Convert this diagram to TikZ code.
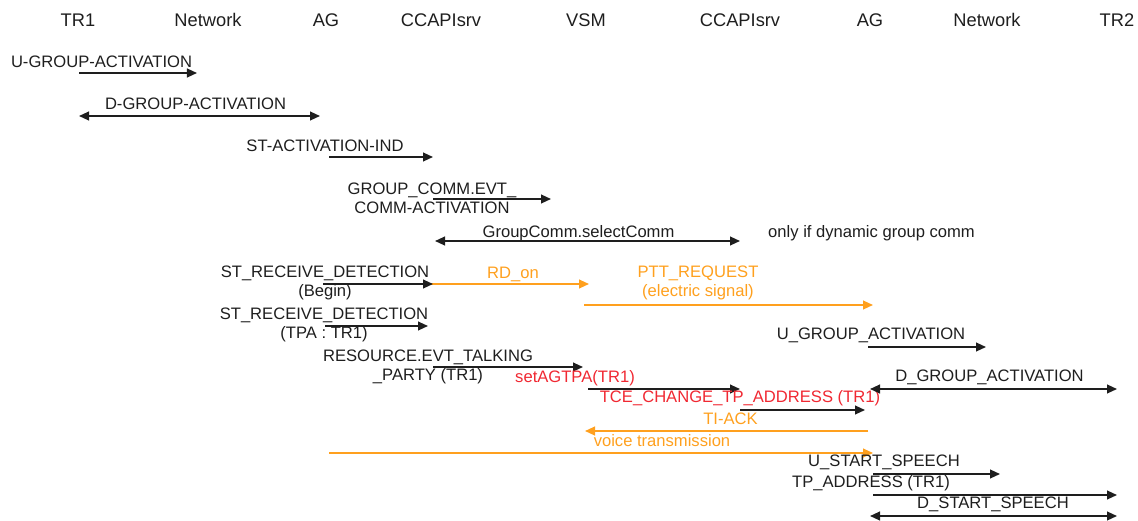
\documentclass[tikz,border=0pt]{standalone}
\usepackage{fontspec}
\setmainfont{Liberation Sans}
\usetikzlibrary{arrows.meta}
\definecolor{msgblack}{RGB}{30,30,30}
\definecolor{msgorange}{RGB}{255,160,30}
\definecolor{msgred}{RGB}{240,40,50}

\begin{document}
\begin{tikzpicture}[x=0.025cm, y=-0.025cm,
    hdr/.style={inner sep=0pt, text=msgblack, font=\fontsize{13}{15}\selectfont},
    lbl/.style={inner sep=0pt, align=center, text=msgblack, font=\fontsize{11.8}{13.5}\selectfont},
    msg/.style={draw=msgblack, line width=1.2pt, -{Triangle[length=2.5mm,width=2.2mm]}},
    dmsg/.style={msg, {Triangle[length=2.5mm,width=2.2mm]}-{Triangle[length=2.5mm,width=2.2mm]}},
    omsg/.style={msg, draw=msgorange, fill=msgorange}]
      \useasboundingbox (0,0) rectangle (1138,520);

      % entities
      \node[hdr] (tr1) at (78,20) {TR1};
      \node[hdr] (net1) at (208,20) {Network};
      \node[hdr] (ag1) at (326,20) {AG};
      \node[hdr] (ccapi1) at (441,20) {CCAPIsrv};
      \node[hdr] (vsm) at (586,20) {VSM};
      \node[hdr] (ccapi2) at (740,20) {CCAPIsrv};
      \node[hdr] (ag2) at (870,20) {AG};
      \node[hdr] (net2) at (987,20) {Network};
      \node[hdr] (tr2) at (1117,20) {TR2};

      % TR1 side
      \node[lbl] (ugrpact) at (101.5,62) {U-GROUP-ACTIVATION};
      \coordinate (ugrpactS) at (79,73); \coordinate (ugrpactE) at (197,73);
      \draw[msg] (ugrpactS) -- (ugrpactE);

      \node[lbl] (dgrpact) at (195.5,104) {D-GROUP-ACTIVATION};
      \coordinate (dgrpactS) at (79,116); \coordinate (dgrpactE) at (320,116);
      \draw[dmsg] (dgrpactS) -- (dgrpactE);

      \node[lbl] (stactind) at (325,146) {ST-ACTIVATION-IND};
      \coordinate (stactindS) at (329,157); \coordinate (stactindE) at (433,157);
      \draw[msg] (stactindS) -- (stactindE);

      \node[lbl] (grpcomm) at (432,198) {GROUP\_COMM.EVT\_\\COMM-ACTIVATION};
      \coordinate (grpcommS) at (433,199); \coordinate (grpcommE) at (551,199);
      \draw[msg] (grpcommS) -- (grpcommE);

      \node[lbl] (selcomm) at (578.5,233) {GroupComm.selectComm};
      \coordinate (selcommS) at (435,241); \coordinate (selcommE) at (740,241);
      \draw[dmsg] (selcommS) -- (selcommE);
      \node[lbl] (dynnote) at (871.5,233) {only if dynamic group comm};

      \node[lbl] (strdbegin) at (325,283) {ST\_RECEIVE\_DETECTION\\(Begin)};
      \coordinate (strdbeginS) at (323,284); \coordinate (strdbeginE) at (433,284);
      \coordinate (rdonE) at (589,284);
      \draw[omsg] (strdbeginS) -- (rdonE);
      \draw[msg] (strdbeginS) -- (strdbeginE);
      \node[lbl, text=msgorange] (rdon) at (513,274) {RD\_on};

      \node[lbl, text=msgorange] (pttreq) at (698,283) {PTT\_REQUEST\\ (electric signal)};
      \coordinate (pttreqS) at (584,305); \coordinate (pttreqE) at (873,305);
      \draw[omsg] (pttreqS) -- (pttreqE);

      \node[lbl] (strdtpa) at (324,325) {ST\_RECEIVE\_DETECTION\\(TPA : TR1)};
      \coordinate (strdtpaS) at (325,326); \coordinate (strdtpaE) at (428,326);
      \draw[msg] (strdtpaS) -- (strdtpaE);

      \node[lbl] (resevt) at (428,366.5) {RESOURCE.EVT\_TALKING\\\_PARTY (TR1)};
      \coordinate (resevtS) at (433,367); \coordinate (resevtE) at (583,367);
      \draw[msg] (resevtS) -- (resevtE);

      \node[lbl, text=msgred] (setagtpa) at (575,378) {setAGTPA(TR1)};
      \coordinate (setagtpaS) at (588,389); \coordinate (setagtpaE) at (740,389);
      \draw[msg] (setagtpaS) -- (setagtpaE);

      \node[lbl, text=msgred] (tcechg) at (740,398) {TCE\_CHANGE\_TP\_ADDRESS (TR1)};
      \coordinate (tcechgS) at (740,410); \coordinate (tcechgE) at (865,410);
      \draw[msg] (tcechgS) -- (tcechgE);

      \node[lbl, text=msgorange] (tiack) at (730.5,419) {TI-ACK};
      \coordinate (tiackS) at (868,431); \coordinate (tiackE) at (585,431);
      \draw[omsg] (tiackS) -- (tiackE);

      \node[lbl, text=msgorange] (voice) at (662,441) {voice transmission};
      \coordinate (voiceS) at (329,453); \coordinate (voiceE) at (873,453);
      \draw[omsg] (voiceS) -- (voiceE);

      % TR2 side
      \node[lbl] (ugrpact2) at (871,335) {U\_GROUP\_ACTIVATION};
      \coordinate (ugrpact2S) at (868,347); \coordinate (ugrpact2E) at (986,347);
      \draw[msg] (ugrpact2S) -- (ugrpact2E);

      \node[lbl] (dgrpact2) at (989.5,377) {D\_GROUP\_ACTIVATION};
      \coordinate (dgrpact2S) at (870,389); \coordinate (dgrpact2E) at (1117,389);
      \draw[dmsg] (dgrpact2S) -- (dgrpact2E);

      \node[lbl] (ustart) at (884,462) {U\_START\_SPEECH};
      \coordinate (ustartS) at (873,474); \coordinate (ustartE) at (1000,474);
      \draw[msg] (ustartS) -- (ustartE);

      \node[lbl] (tpaddr) at (871,483) {TP\_ADDRESS (TR1)};
      \coordinate (tpaddrS) at (873,495); \coordinate (tpaddrE) at (1117,495);
      \draw[msg] (tpaddrS) -- (tpaddrE);

      \node[lbl] (dstart) at (993,504) {D\_START\_SPEECH};
      \coordinate (dstartS) at (870,516); \coordinate (dstartE) at (1117,516);
      \draw[dmsg] (dstartS) -- (dstartE);
    \end{tikzpicture}
\end{document}
